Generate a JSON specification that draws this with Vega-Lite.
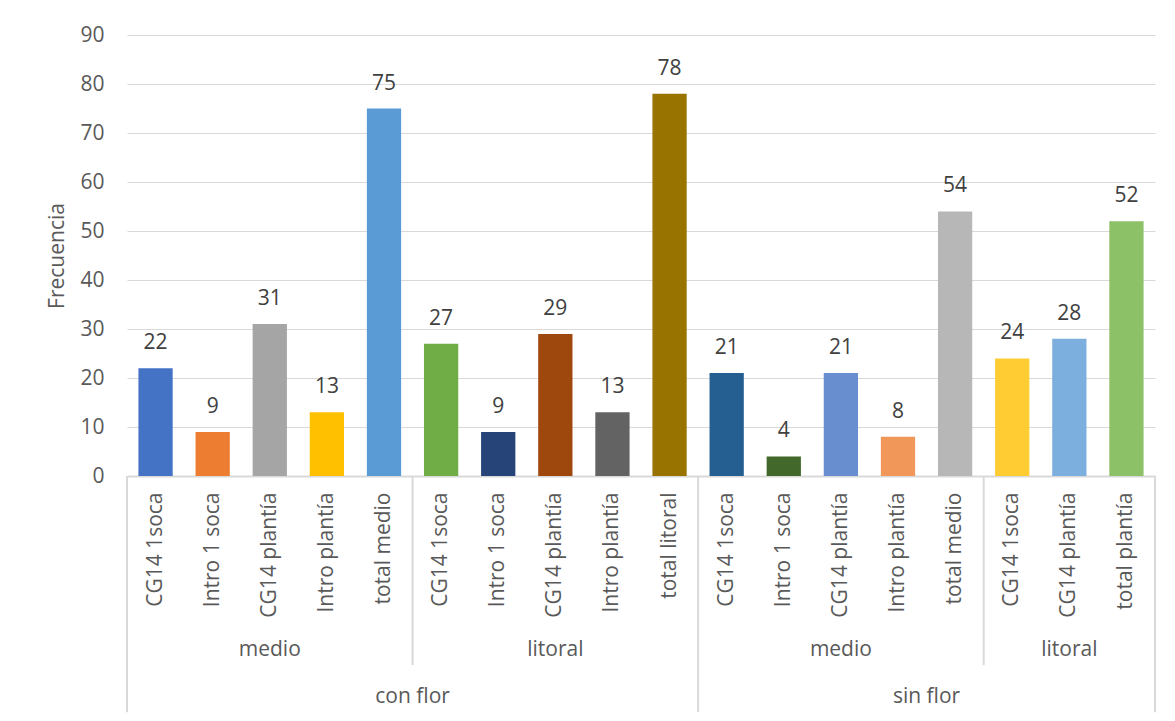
{
  "$schema": "https://vega.github.io/schema/vega-lite/v6.json",
  "width": 1028,
  "height": 441,
  "autosize": {"type": "none"},
  "padding": {"left": 127, "top": 35, "right": 20, "bottom": 245},
  "background": "white",
  "config": {"view": {"stroke": null}, "font": "Open Sans"},
  "datasets": {
    "bars": [
      {"key": "con flor|medio|CG14 1soca", "value": 22},
      {"key": "con flor|medio|Intro 1 soca", "value": 9},
      {"key": "con flor|medio|CG14 plantía", "value": 31},
      {"key": "con flor|medio|Intro plantía", "value": 13},
      {"key": "con flor|medio|total medio", "value": 75},
      {"key": "con flor|litoral|CG14 1soca", "value": 27},
      {"key": "con flor|litoral|Intro 1 soca", "value": 9},
      {"key": "con flor|litoral|CG14 plantía", "value": 29},
      {"key": "con flor|litoral|Intro plantía", "value": 13},
      {"key": "con flor|litoral|total litoral", "value": 78},
      {"key": "sin flor|medio|CG14 1soca", "value": 21},
      {"key": "sin flor|medio|Intro 1 soca", "value": 4},
      {"key": "sin flor|medio|CG14 plantía", "value": 21},
      {"key": "sin flor|medio|Intro plantía", "value": 8},
      {"key": "sin flor|medio|total medio", "value": 54},
      {"key": "sin flor|litoral|CG14 1soca", "value": 24},
      {"key": "sin flor|litoral|CG14 plantía", "value": 28},
      {"key": "sin flor|litoral|total plantía", "value": 52}
    ],
    "sub": [
      {"label": "medio", "key": "con flor|medio|CG14 plantía"},
      {"label": "litoral", "key": "con flor|litoral|CG14 plantía"},
      {"label": "medio", "key": "sin flor|medio|CG14 plantía"},
      {"label": "litoral", "key": "sin flor|litoral|CG14 plantía"}
    ],
    "top": [
      {"label": "con flor", "key": "con flor|medio|total medio"},
      {"label": "sin flor", "key": "sin flor|medio|Intro plantía"}
    ],
    "longsep": [
      {"key": "con flor|medio|CG14 1soca"},
      {"key": "sin flor|medio|CG14 1soca"}
    ],
    "shortsep": [
      {"key": "con flor|litoral|CG14 1soca"},
      {"key": "sin flor|litoral|CG14 1soca"}
    ],
    "rightsep": [
      {"key": "sin flor|litoral|total plantía"}
    ]
  },
  "layer": [
    {
      "data": {"name": "bars"},
      "mark": {"type": "bar", "width": {"band": 0.6}},
      "encoding": {
        "x": {
          "field": "key", "type": "nominal", "sort": null,
          "scale": {"type": "band", "paddingInner": 0, "paddingOuter": 0},
          "axis": {
            "title": null,
            "labelExpr": "split(datum.value, '|')[2]",
            "labelAngle": 270,
            "labelAlign": "right",
            "labelBaseline": "middle",
            "labelPadding": 16,
            "labelFontSize": 21,
            "labelColor": "#595959",
            "labelFont": "Open Sans",
            "ticks": false,
            "tickSize": 0,
            "domainColor": "#D9D9D9",
            "domainWidth": 2,
            "grid": false
          }
        },
        "y": {
          "field": "value", "type": "quantitative",
          "scale": {"domain": [0, 90], "nice": false},
          "axis": {
            "title": "Frecuencia",
            "titleFontSize": 21,
            "titleFontWeight": "normal",
            "titleColor": "#595959",
            "titleFont": "Open Sans",
            "titlePadding": 12,
            "values": [0, 10, 20, 30, 40, 50, 60, 70, 80, 90],
            "labelFontSize": 21,
            "labelColor": "#595959",
            "labelFont": "Open Sans",
            "labelPadding": 23,
            "ticks": false,
            "tickSize": 0,
            "domain": false,
            "grid": true,
            "gridColor": "#D9D9D9",
            "gridWidth": 1
          }
        },
        "color": {
          "field": "key", "type": "nominal", "sort": null, "legend": null,
          "scale": {
            "range": ["#4472C4", "#ED7D31", "#A5A5A5", "#FFC000", "#5B9BD5", "#70AD47", "#264478", "#9E480E", "#636363", "#997300", "#255E91", "#43682B", "#698ED0", "#F1975A", "#B7B7B7", "#FFCD33", "#7CAFDD", "#8CC168"]
          }
        }
      }
    },
    {
      "data": {"name": "bars"},
      "mark": {"type": "text", "baseline": "middle", "dy": -25, "fontSize": 21, "color": "#404040", "font": "Open Sans"},
      "encoding": {
        "x": {"field": "key", "type": "nominal", "sort": null},
        "y": {"field": "value", "type": "quantitative"},
        "text": {"field": "value", "type": "quantitative"}
      }
    },
    {
      "data": {"name": "longsep"},
      "mark": {"type": "rule", "color": "#D9D9D9", "strokeWidth": 2},
      "encoding": {
        "x": {"field": "key", "type": "nominal", "sort": null, "bandPosition": 0},
        "y": {"datum": 0},
        "y2": {"datum": -48.2}
      }
    },
    {
      "data": {"name": "rightsep"},
      "mark": {"type": "rule", "color": "#D9D9D9", "strokeWidth": 2},
      "encoding": {
        "x": {"field": "key", "type": "nominal", "sort": null, "bandPosition": 1},
        "y": {"datum": 0},
        "y2": {"datum": -48.2}
      }
    },
    {
      "data": {"name": "shortsep"},
      "mark": {"type": "rule", "color": "#D9D9D9", "strokeWidth": 2},
      "encoding": {
        "x": {"field": "key", "type": "nominal", "sort": null, "bandPosition": 0},
        "y": {"datum": 0},
        "y2": {"datum": -38.6}
      }
    },
    {
      "data": {"name": "sub"},
      "mark": {"type": "text", "baseline": "middle", "fontSize": 21, "color": "#595959", "font": "Open Sans"},
      "encoding": {
        "x": {"field": "key", "type": "nominal", "sort": null},
        "y": {"datum": -35.5},
        "text": {"field": "label", "type": "nominal"}
      }
    },
    {
      "data": {"name": "top"},
      "mark": {"type": "text", "baseline": "middle", "fontSize": 21, "color": "#595959", "font": "Open Sans"},
      "encoding": {
        "x": {"field": "key", "type": "nominal", "sort": null, "bandPosition": 1},
        "y": {"datum": -45.1},
        "text": {"field": "label", "type": "nominal"}
      }
    }
  ]
}
